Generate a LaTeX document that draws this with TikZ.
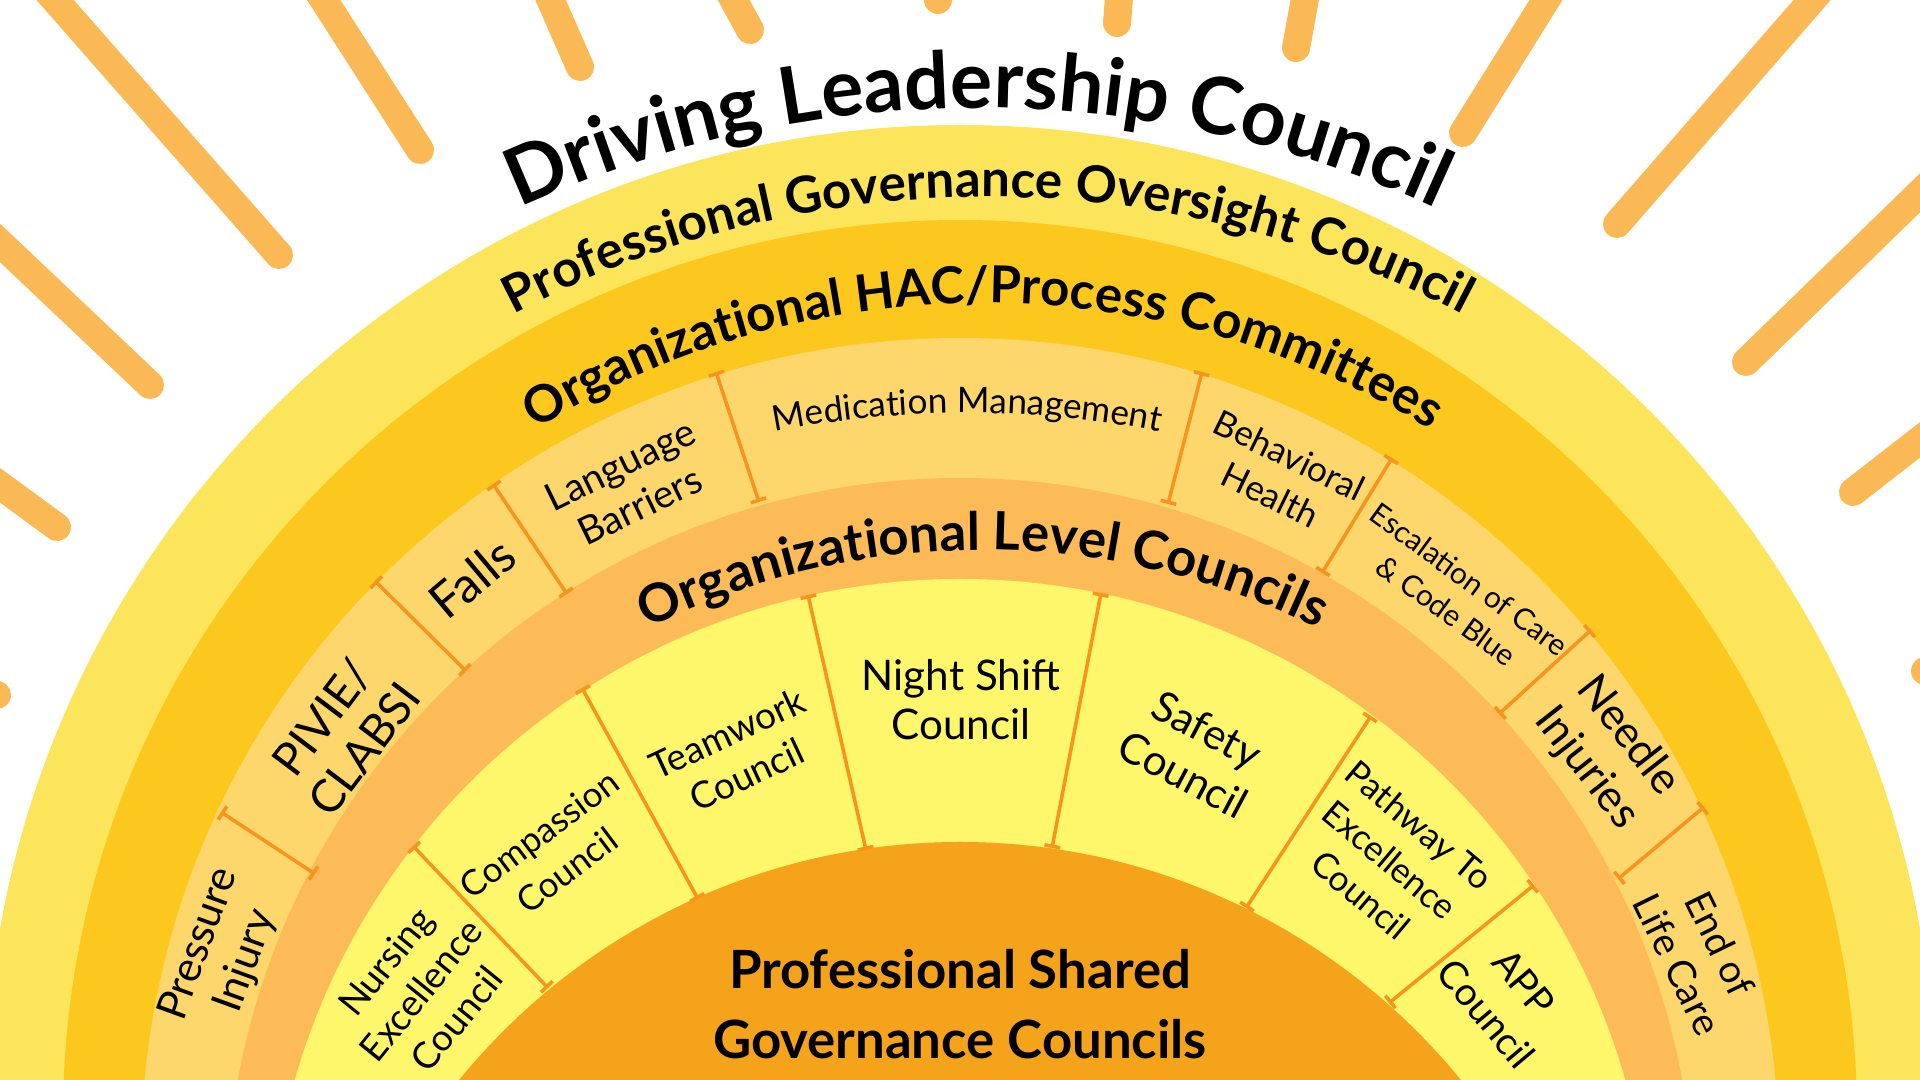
\documentclass[tikz,border=0pt]{standalone}
\usepackage{fontspec}
\setmainfont{Lato}
\usetikzlibrary{arrows.meta, decorations.text}
\definecolor{sunray}{HTML}{FBB955}
\definecolor{ringA}{HTML}{FDE55B}
\definecolor{ringB}{HTML}{FDC81E}
\definecolor{ringC}{HTML}{FDD66C}
\definecolor{ringD}{HTML}{FDBB58}
\definecolor{ringE}{HTML}{FEF66B}
\definecolor{core}{HTML}{F5A31A}
\definecolor{divider}{HTML}{F7941D}
\newcommand{\fsz}[2]{\fontsize{#1}{#2}\selectfont}

\begin{document}
\begin{tikzpicture}[x=0.01cm,y=0.01cm,
    ray/.style={sunray,line width=0.28cm,line cap=round},
    sep/.style={draw=divider,line width=1pt,{Bar[width=0.16cm]}-{Bar[width=0.16cm]}},
    lbl/.style={align=center,inner sep=0pt},
    arctext/.style={decorate,decoration={text along path,text align=center,text={#1}}}]

    \useasboundingbox (0,0) rectangle (1920,-1080);
    \clip (0,0) rectangle (1920,-1080);
    \fill[white] (0,0) rectangle (1920,-1080);

    \foreach \xa/\ya/\xb/\yb in {20/40/279/-255, 298/40/420/-150, 533/40/580/-67,
        712/40/750/-30, 935/40/938/0, 1122/40/1117/-23, 1312/40/1296/-48,
        1571/40/1463/-133, 1847/40/1617/-224, 1961/-153/1746/-362,
        1970/-401/1853/-492, 1990/-650/1925/-671, -40/-205/150/-385,
        -40/-456/57/-527, -70/-670/-3/-695}
        \draw[ray] (\xa,\ya) -- (\xb,\yb);

    \fill[ringA] (960,-1100) circle[radius=975];
    \fill[ringB] (960,-1117) circle[radius=897];
    \fill[ringC] (960,-1157) circle[radius=819];
    \fill[ringD] (960,-1212) circle[radius=734];
    \fill[ringE] (960,-1271) circle[radius=692];
    \fill[core] (960,-1488) circle[radius=646];

    \foreach \xa/\ya/\xb/\yb in {221/-812/315/-874, 375/-581/466/-671,
        493/-484/567/-594, 716/-372/759/-502, 1202/-372/1168/-504,
        1392/-458/1322/-573, 1591/-630/1499/-714, 1704/-807/1618/-879,
        413/-846/548/-988, 582/-688/698/-899, 808/-595/866/-850,
        1101/-593/1052/-848, 1371/-716/1246/-908, 1534/-885/1389/-1003}
        \draw[sep] (\xa,\ya) -- (\xb,\yb);

    \path[arctext={|\bfseries\fsz{22.5}{26}|Driving Leadership Council}]
        ([shift={(978,-1206)}]140:1098) arc[start angle=140,end angle=40,radius=1098];
    \path[arctext={|\bfseries\fsz{14.5}{17}|Professional Governance Oversight Council}]
        ([shift={(988,-1214)}]140:1017) arc[start angle=140,end angle=40,radius=1017];
    \path[arctext={|\bfseries\fsz{14.5}{17}|Organizational HAC/Process Committees}]
        ([shift={(983,-1157)}]145:854) arc[start angle=145,end angle=35,radius=854];
    \path[arctext={|\bfseries\fsz{15}{18}|Organizational Level Councils}]
        ([shift={(983,-1304)}]140:754) arc[start angle=140,end angle=40,radius=754];
    \path[arctext={|\fsz{10}{12}|Medication Management}]
        ([shift={(967,-1413)}]110:1000) arc[start angle=110,end angle=70,radius=1000];

    \node[lbl,rotate=70,font=\fsz{12}{14}] (pressure) at (223,-953) {Pressure\\Injury};
    \node[lbl,rotate=53,font=\fsz{13}{15}] (pivie) at (343,-733) {PIVIE/\\CLABSI};
    \node[lbl,rotate=40,font=\fsz{14}{16}] (falls) at (472,-578) {Falls};
    \node[lbl,rotate=26,font=\fsz{11}{13}] (language) at (630,-485) {Language\\Barriers};
    \node[lbl,rotate=-26,font=\fsz{10}{12.5}] (behavioral) at (1280,-475) {Behavioral\\Health};
    \node[lbl,rotate=-36,font=\fsz{8.5}{11}] (escalation) at (1458,-595) {Escalation of Care\\\& Code Blue};
    \node[lbl,rotate=-52,font=\fsz{12.5}{15}] (needle) at (1607,-752) {Needle\\Injuries};
    \node[lbl,rotate=-64,font=\fsz{11}{13.5}] (endlife) at (1699,-954) {End of\\Life Care};

    \node[lbl,rotate=51,font=\fsz{10.5}{13}] (nursing) at (421,-990) {Nursing\\Excellence\\Council};
    \node[lbl,rotate=37,font=\fsz{10}{13}] (compassion) at (553,-852) {Compassion\\Council};
    \node[lbl,rotate=25,font=\fsz{10.5}{13}] (teamwork) at (737,-754) {Teamwork\\Council};
    \node[lbl,font=\fsz{12}{14}] (night) at (961,-700) {Night Shift\\Council};
    \node[lbl,rotate=-28,font=\fsz{12}{14.5}] (safety) at (1195,-752) {Safety\\Council};
    \node[lbl,rotate=-40,font=\fsz{10}{13}] (pathway) at (1390,-860) {Pathway To\\Excellence\\Council};
    \node[lbl,rotate=-50,font=\fsz{11}{14}] (app) at (1505,-998) {APP\\Council};

    \node[lbl,font=\bfseries\fsz{15}{20}] (shared) at (960,-1004) {Professional Shared\\Governance Councils};
\end{tikzpicture}
\end{document}
